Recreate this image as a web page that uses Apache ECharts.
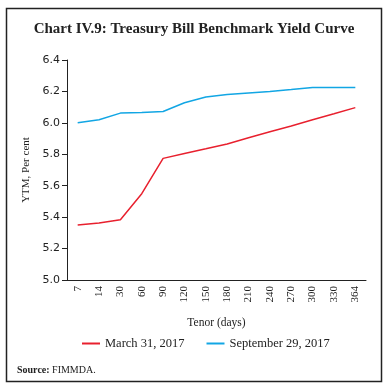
<!DOCTYPE html>
<html><head><meta charset="utf-8">
<script src="https://cdn.jsdelivr.net/npm/echarts@6/dist/echarts.min.js"></script>
<style>html,body{margin:0;padding:0;background:#fff}#c{width:388px;height:389px}</style>
</head><body><div id="c"></div>
<script>
const tenors = ['7','14','30','60','90','120','150','180','210','240','270','300','330','364'];
const march31 = [5.35,5.363,5.384,5.549,5.774,5.805,5.835,5.866,5.905,5.943,5.98,6.02,6.058,6.097];
const sept29 = [6.0,6.02,6.062,6.066,6.072,6.128,6.165,6.18,6.19,6.20,6.212,6.225,6.225,6.225];
const yTicks = {min:5.0, max:6.4, interval:0.2};

const chart = echarts.init(document.getElementById('c'));
const serif = '"Liberation Serif","DejaVu Serif",serif';
chart.setOption({
  animation:false,
  title:{text:'Chart IV.9: Treasury Bill Benchmark Yield Curve', left:'center', top:17,
    textStyle:{fontFamily:serif, fontWeight:'bold', fontSize:15, color:'#222'}},
  graphic:[
    {type:'rect', shape:{x:6.5,y:8.5,width:375,height:373}, style:{fill:'none',stroke:'#222',lineWidth:1.5}},
    {type:'text', left:17, top:365, style:{text:'{b|Source:} FIMMDA.', fontFamily:serif, fontSize:10, fill:'#222',
      rich:{b:{fontWeight:'bold', fontFamily:serif, fontSize:10, fill:'#222'}}}}
  ],
  legend:{bottom:34, left:77, itemWidth:18, itemHeight:2, itemGap:22,
    icon:'rect', textStyle:{fontFamily:serif, fontSize:12.5, color:'#222'},
    data:['March 31, 2017','September 29, 2017']},
  grid:{left:67, right:22, top:60, bottom:109},
  xAxis:{type:'category', data:tenors, boundaryGap:true,
    name:'Tenor (days)', nameLocation:'middle', nameGap:37,
    nameTextStyle:{fontFamily:serif, fontSize:11.5, color:'#222'},
    axisLine:{lineStyle:{color:'#222'}},
    axisTick:{alignWithLabel:false, length:5, lineStyle:{color:'#222'}},
    axisLabel:{rotate:90, fontFamily:serif, fontSize:11, color:'#222', margin:6}},
  yAxis:{type:'value', min:yTicks.min, max:yTicks.max, interval:yTicks.interval,
    name:'YTM, Per cent', nameLocation:'middle', nameGap:28,
    nameTextStyle:{fontFamily:serif, fontSize:11, color:'#222'},
    splitLine:{show:false},
    axisLine:{show:true, lineStyle:{color:'#222'}},
    axisTick:{show:true, length:5, lineStyle:{color:'#222'}},
    axisLabel:{fontFamily:'"DejaVu Sans",sans-serif', fontSize:11, color:'#222', margin:7,
      formatter:v=>v.toFixed(1)}},
  series:[
    {name:'March 31, 2017', type:'line', data:march31, symbol:'none', lineStyle:{width:1.5, color:'#e8202e'}, itemStyle:{color:'#e8202e'}},
    {name:'September 29, 2017', type:'line', data:sept29, symbol:'none', lineStyle:{width:1.5, color:'#12a6e4'}, itemStyle:{color:'#12a6e4'}}
  ]
});
</script></body></html>
